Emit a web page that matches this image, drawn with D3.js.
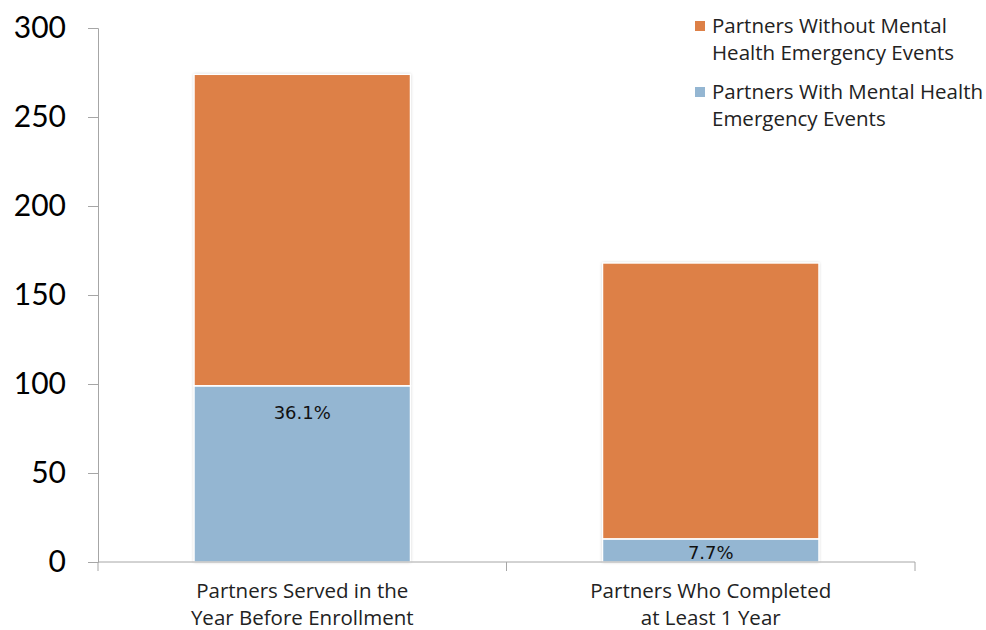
<!DOCTYPE html>
<html><head><meta charset="utf-8">
<script src="https://cdn.jsdelivr.net/npm/d3@7"></script>
<style>body{margin:0;background:#fff}svg{display:block}</style>
</head><body><svg id="c" width="986" height="630"></svg>
<script>
const categories = [["Partners Served in the","Year Before Enrollment"],["Partners Who Completed","at Least 1 Year"]];
const withEvents = [99, 13];
const withoutEvents = [175, 155];
const pctLabels = ["36.1%","7.7%"];
const seriesNames = [["Partners Without Mental","Health Emergency Events"],["Partners With Mental Health","Emergency Events"]];
const yTicks = [0,50,100,150,200,250,300];
const colors = {without:"#DD8047", with:"#94B6D2"};

const svg = d3.select("#c");
const defs = svg.append("defs");
const f = defs.append("filter").attr("id","sh").attr("x","-5%").attr("y","-5%").attr("width","110%").attr("height","110%");
f.append("feDropShadow").attr("dx",0).attr("dy",0).attr("stdDeviation",1.5).attr("flood-color","#000").attr("flood-opacity",0.3);

const x0 = 98, x1 = 915, yTop = 28, yBot = 562;
const x = d3.scaleBand().domain([0,1]).range([x0,x1]).paddingInner(0.47).paddingOuter(0.235);
const y = d3.scaleLinear().domain([0,300]).range([yBot,yTop]);
const axisColor = "#a6a6a6";
const txtFont = "'Open Sans', sans-serif";
const txtSize = 20.5;

// y axis
const ya = svg.append("g").attr("transform",`translate(${x0},0)`)
  .call(d3.axisLeft(y).tickValues(yTicks).tickSize(10).tickPadding(22));
ya.select(".domain").attr("stroke",axisColor);
ya.selectAll(".tick line").attr("stroke",axisColor);
ya.selectAll(".tick text").attr("font-family","Lato, sans-serif").attr("font-size",30).attr("fill","#000");

// bars
const data = [0,1].map(i=>({i, w:withEvents[i], wo:withoutEvents[i]}));
const g = svg.append("g");
data.forEach(d=>{
  const bx = x(d.i), bw = x.bandwidth();
  g.append("rect").attr("x",bx).attr("y",y(d.w+d.wo)).attr("width",bw).attr("height",y(0)-y(d.w+d.wo))
    .attr("fill","#fff").attr("filter","url(#sh)");
  g.append("rect").attr("x",bx).attr("y",y(d.w)).attr("width",bw).attr("height",y(0)-y(d.w))
    .attr("fill",colors.with).attr("stroke","#fff").attr("stroke-width",1.5);
  g.append("rect").attr("x",bx).attr("y",y(d.w+d.wo)).attr("width",bw).attr("height",y(d.w)-y(d.w+d.wo))
    .attr("fill",colors.without).attr("stroke","#fff").attr("stroke-width",1.5);
});
// pct labels
g.selectAll("text.p").data(data).enter().append("text")
  .attr("x",d=>x(d.i)+x.bandwidth()/2)
  .attr("y",(d,k)=> k===0 ? y(d.w)+33 : y(0)-3)
  .attr("text-anchor","middle").attr("font-family","'DejaVu Sans', sans-serif").attr("font-size",18).attr("fill","#111")
  .text((d,k)=>pctLabels[k]);

// x axis
svg.append("line").attr("x1",x0).attr("x2",x1).attr("y1",yBot).attr("y2",yBot).attr("stroke",axisColor);
[x0, (x0+x1)/2, x1].forEach(t=>svg.append("line").attr("x1",t).attr("x2",t).attr("y1",yBot).attr("y2",yBot+9).attr("stroke",axisColor));
categories.forEach((c,i)=>{
  const t = svg.append("text").attr("text-anchor","middle").attr("font-family",txtFont).attr("font-size",txtSize).attr("fill","#222");
  c.forEach((ln,j)=>t.append("tspan").attr("x",x(i)+x.bandwidth()/2).attr("y",598+j*27).text(ln));
});

// legend
const leg = svg.append("g");
[[colors.without,21,seriesNames[0]],[colors.with,87,seriesNames[1]]].forEach(([col,yy,names])=>{
  leg.append("rect").attr("x",695).attr("y",yy).attr("width",10).attr("height",10).attr("fill",col);
  const t = leg.append("text").attr("font-family",txtFont).attr("font-size",txtSize).attr("fill","#222");
  names.forEach((ln,j)=>t.append("tspan").attr("x",712).attr("y",yy+12+j*27).text(ln));
});
</script></body></html>
